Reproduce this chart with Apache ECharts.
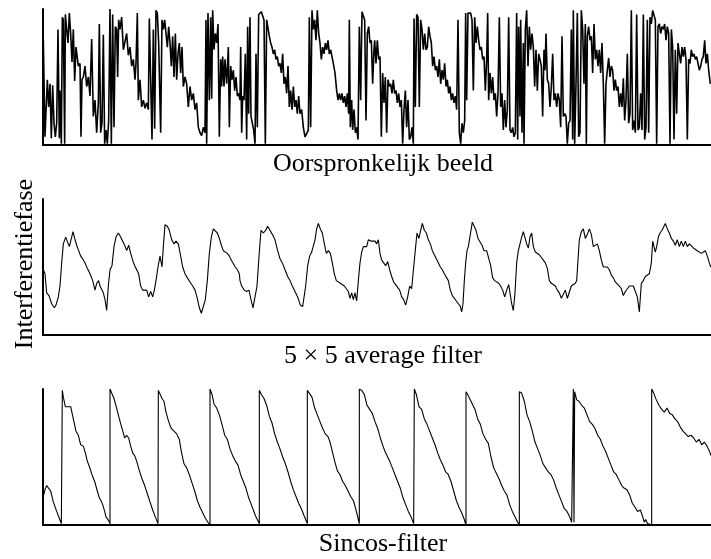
<!DOCTYPE html>
<html>
  <head>
    <meta charset="utf-8" />
    <title>Interferentiefase</title>
    <script src="https://cdn.jsdelivr.net/npm/echarts@6/dist/echarts.min.js"></script>
    <style>
      body { margin: 0; background: #fff; }
    </style>
  </head>
  <body>
    <div id="main" style="width: 711px; height: 559px"></div>
    <script type="text/javascript">
      // x = position along the profile (0..2004), y = phase in % of one fringe (0..100)
      var origPhase = [
        [1,77],[6,6],[13,48],[17,28],[21,45],[25,5],[29,44],[33,16],[37,6],[41,16],[45,85],[49,5],[51,40],[55,1],[58,94],[61,92],[65,1],[67,96],[71,85],[75,75],[79,97],[83,82],[87,61],[91,85],[95,47],[99,72],[106,58],[111,60],[114,6],[117,48],[121,50],[126,58],[131,43],[136,50],[141,36],[146,78],[151,21],[156,33],[161,9],[166,31],[169,89],[173,9],[177,16],[181,81],[185,1],[189,11],[193,1],[197,18],[201,100],[205,1],[209,96],[213,13],[217,87],[221,85],[224,50],[227,92],[231,85],[236,94],[241,70],[246,69],[251,82],[256,66],[261,72],[266,58],[271,63],[276,48],[279,60],[283,97],[286,33],[291,48],[296,28],[301,33],[306,27],[311,31],[316,26],[319,93],[323,92],[327,4],[331,85],[335,12],[339,99],[343,97],[347,75],[353,9],[357,92],[361,85],[365,92],[369,82],[373,72],[377,87],[381,75],[385,58],[389,80],[393,50],[397,82],[401,48],[405,67],[409,75],[413,53],[417,72],[421,43],[426,50],[431,45],[436,28],[441,43],[446,33],[451,38],[456,26],[461,31],[466,13],[471,9],[476,7],[481,13],[486,9],
        [489,92],[491,1],[495,97],[499,33],[503,94],[506,34],[509,99],[513,70],[517,82],[521,75],[525,89],[529,6],[533,63],[536,43],[539,65],[543,43],[546,63],[551,45],[556,72],[559,13],[563,58],[567,48],[571,55],[575,40],[579,50],[583,36],[587,38],[591,33],[593,72],[596,9],[599,36],[603,33],[607,67],[611,4],[614,87],[617,23],[621,94],[624,21],[628,16],[632,11],[636,1],[639,67],[643,13],[647,96],[651,97],[655,98],[659,98],[663,92],[667,1],[671,92],[675,92],[679,80],[683,75],[687,72],[691,67],[695,70],[699,63],[703,65],[707,58],[711,60],[715,53],[719,67],[723,45],[727,50],[731,38],[735,58],[739,28],[743,40],[747,26],[751,43],[755,28],[759,33],[763,23],[767,36],[771,23],[776,26],[781,13],[786,6],[791,6],[796,11],[799,94],[803,13],[807,99],[811,85],[815,92],[819,77],[823,99],[827,82],[831,75],[835,63],[839,72],[843,67],[847,75],[851,70],[855,77],[859,67],[863,70],[867,65],[871,60],[876,53],[881,40],[885,33],[889,38],[893,33],[897,38],[901,31],[905,36],[909,28],[913,38],[917,23],[919,92],[922,13],[926,33],[929,11],[933,26],[937,9],[941,13],[945,4],[949,87],[953,33],[957,98],[961,97],[965,92],[969,18],[973,82],[977,87],[981,75],[985,77],[989,45],[993,70],
        [995,77],[999,60],[1003,77],[1007,63],[1011,65],[1015,6],[1019,53],[1023,31],[1027,50],[1031,9],[1035,48],[1039,43],[1043,45],[1047,38],[1051,48],[1055,38],[1059,40],[1063,31],[1067,38],[1071,28],[1075,33],[1079,1],[1083,26],[1087,40],[1091,13],[1095,33],[1099,4],[1103,6],[1107,13],[1111,1],[1113,93],[1117,28],[1121,96],[1125,94],[1129,28],[1133,92],[1137,85],[1141,70],[1145,82],[1149,70],[1153,72],[1157,87],[1161,80],[1165,75],[1169,58],[1173,65],[1177,55],[1181,58],[1185,50],[1189,63],[1193,45],[1197,55],[1201,48],[1205,60],[1209,43],[1213,48],[1217,38],[1221,43],[1225,33],[1229,38],[1233,31],[1237,36],[1241,26],[1245,92],[1249,9],[1253,1],[1257,16],[1261,9],[1265,18],[1268,97],[1271,33],[1275,97],[1279,98],[1283,97],[1287,92],[1291,40],[1295,94],[1299,75],[1303,87],[1307,77],[1311,70],[1315,72],[1319,63],[1323,65],[1327,40],[1331,63],[1334,97],[1337,33],[1341,53],[1345,38],[1349,50],[1353,33],[1357,38],[1361,21],[1365,38],[1369,94],[1373,28],[1377,38],[1381,11],[1385,33],[1389,13],[1393,26],[1397,94],[1401,11],[1405,9],[1409,13],[1413,6],[1417,9],[1421,97],[1424,4],[1427,87],[1431,21],[1433,92],[1437,9],[1441,75],[1443,1],[1447,85],[1451,99],[1455,58],[1459,87],[1463,70],[1467,82],[1471,72],[1475,43],[1479,70],[1483,40],[1487,67],[1491,63],[1495,58],[1499,21],[1503,70],
        [1506,55],[1509,82],[1513,48],[1517,45],[1521,28],[1525,43],[1529,67],[1533,33],[1537,38],[1541,28],[1545,38],[1549,33],[1553,13],[1557,80],[1561,21],[1565,23],[1569,21],[1573,1],[1577,16],[1581,18],[1585,85],[1589,4],[1591,99],[1595,1],[1599,45],[1603,97],[1607,6],[1611,9],[1615,99],[1619,85],[1623,45],[1627,89],[1630,1],[1633,80],[1637,87],[1641,77],[1645,80],[1649,53],[1653,89],[1657,63],[1661,70],[1665,58],[1669,70],[1673,53],[1677,75],[1681,45],[1685,1],[1689,45],[1693,55],[1697,64],[1701,50],[1705,58],[1709,55],[1713,40],[1717,48],[1721,40],[1725,43],[1729,28],[1733,38],[1737,28],[1741,49],[1745,18],[1749,33],[1753,67],[1757,16],[1761,23],[1765,99],[1769,11],[1773,18],[1777,9],[1781,96],[1785,11],[1789,13],[1793,38],[1797,11],[1801,96],[1805,4],[1809,13],[1813,92],[1817,9],[1821,94],[1825,89],[1829,99],[1833,98],[1837,92],[1841,1],[1845,87],[1849,89],[1853,82],[1857,87],[1861,85],[1865,89],[1869,77],[1873,87],[1877,82],[1881,1],[1885,85],[1889,72],[1893,4],[1897,70],[1901,23],[1905,75],[1909,67],[1913,60],[1917,72],[1921,65],[1925,72],[1929,63],[1933,4],[1937,63],[1941,60],[1945,70],[1949,65],[1953,67],[1957,63],[1961,65],[1965,60],[1969,55],[1973,58],[1977,63],[1981,65],[1985,77],[1989,60],[1993,67],[1997,55],[2002,45]
      ];

      var avgPhase = [
        [1,48],[6,45],[11,31],[18,29],[26,23],[34,20],[39,22],[46,28],[51,36],[56,53],[61,67],[68,72],[74,71],[79,65],[84,70],[90,76],[95,71],[101,66],[107,65],[113,58],[119,56],[126,53],[133,49],[141,45],[149,40],[156,33],[161,38],[167,40],[171,36],[176,37],[181,31],[186,26],[191,18],[196,36],[201,48],[207,51],[213,65],[219,72],[226,75],[233,72],[239,69],[245,66],[251,62],[257,66],[263,60],[269,55],[275,51],[281,51],[287,45],[293,36],[299,33],[305,32],[311,33],[317,28],[323,32],[329,28],[334,33],[339,40],[345,50],[351,58],[357,50],[361,65],[366,81],[373,80],[379,77],[386,70],[393,67],[399,69],[406,67],[413,58],[419,50],[426,45],[433,42],[441,39],[449,36],[456,33],[463,27],[469,20],[475,16],[481,16],[487,26],[493,40],[499,60],[505,72],[511,78],[517,77],[523,75],[529,71],[535,66],[541,62],[547,63],[553,60],[559,58],[565,55],[571,54],[577,50],[583,48],[589,45],
        [591,40],[596,36],[604,33],[611,32],[618,33],[624,26],[630,20],[636,28],[642,36],[648,58],[654,77],[661,75],[668,77],[674,80],[681,77],[688,74],[696,70],[704,62],[711,56],[718,53],[726,48],[734,43],[741,40],[748,36],[756,32],[764,28],[772,22],[779,21],[784,21],[788,36],[794,51],[800,58],[806,61],[812,62],[816,70],[821,78],[826,82],[832,78],[838,75],[844,67],[850,60],[856,62],[862,60],[868,53],[874,45],[880,40],[886,39],[892,38],[898,37],[904,36],[910,34],[916,32],[921,27],[926,31],[931,26],[936,31],[941,25],[946,40],[951,53],[956,61],[961,65],[966,66],[971,65],[976,70],[981,69],[986,69],[991,70],[996,69],[1001,67],[1006,70],[1011,60],[1016,55],[1022,53],[1028,51],[1034,54],[1040,48],[1046,43],[1052,39],[1058,37],[1064,36],[1070,33],[1076,28],[1082,26],[1088,22],[1094,28],[1100,36],[1106,34],[1112,50],[1118,65],[1122,75],[1128,71],[1132,76],[1138,82],[1144,77],[1150,75],[1156,70],[1162,67],[1168,62],[1174,61],[1180,56],[1186,55],[1192,50],[1198,48],[1204,45],[1210,44],[1216,40],[1222,33],[1228,29],[1234,28],[1240,25],[1246,23],[1252,21],[1256,17],[1260,23],[1264,40],[1268,53],[1272,62],[1276,65],[1282,74],[1288,83],[1294,82],
        [1299,77],[1305,71],[1311,72],[1317,66],[1323,62],[1331,62],[1337,61],[1343,51],[1349,42],[1355,40],[1361,39],[1367,38],[1373,36],[1379,33],[1385,28],[1391,33],[1397,37],[1401,31],[1406,23],[1411,18],[1416,31],[1421,53],[1426,62],[1431,67],[1436,72],[1441,76],[1446,77],[1451,67],[1456,64],[1461,72],[1466,75],[1471,65],[1477,61],[1483,61],[1489,59],[1495,58],[1501,55],[1507,53],[1513,49],[1519,40],[1525,38],[1531,37],[1537,36],[1543,33],[1549,31],[1555,27],[1561,26],[1567,33],[1573,27],[1579,28],[1585,36],[1591,36],[1597,38],[1601,40],[1605,55],[1609,70],[1615,76],[1621,78],[1627,71],[1633,74],[1639,78],[1645,74],[1651,65],[1657,64],[1663,67],[1669,62],[1675,55],[1681,50],[1687,49],[1693,50],[1699,48],[1705,44],[1711,42],[1717,39],[1723,38],[1729,36],[1735,34],[1741,29],[1747,32],[1753,34],[1759,36],[1765,37],[1771,36],[1777,32],[1783,28],[1789,17],[1795,38],[1801,40],[1807,43],[1813,44],[1819,45],[1825,53],[1829,69],[1833,70],[1837,61],[1841,65],[1846,72],[1851,75],[1857,77],[1861,77],[1867,82],[1873,78],[1879,75],[1885,71],[1891,69],[1897,66],[1903,70],[1909,65],[1915,69],[1921,65],[1927,69],[1933,65],[1939,67],[1945,67],[1951,64],[1957,65],[1963,62],[1969,61],[1975,60],[1981,61],[1987,62],[1993,58],[1999,53],[2003,50]
      ];

      var sincosPhase = [
        [1,21],[6,26],[11,29],[17,29],[23,25],[31,17],[41,10],[49,5],[55,1],[58,0],[58,99],[61,94],[67,87],[76,87],[83,87],[91,78],[99,69],[106,66],[113,59],[121,58],[127,53],[133,47],[139,43],[147,37],[155,32],[163,25],[169,20],[174,18],[179,15],[185,10],[189,6],[195,5],[200,2],[201,0],[201,100],[206,99],[213,93],[221,86],[229,78],[237,71],[245,64],[251,66],[257,64],[263,58],[269,53],[275,51],[281,47],[289,40],[297,34],[305,29],[313,23],[321,17],[329,11],[337,6],[345,1],[346,0],[346,99],[351,98],[357,93],[363,91],[369,83],[377,76],[385,71],[393,69],[401,67],[409,63],[415,54],[423,45],[431,42],[439,37],[447,31],[455,25],[463,18],[471,13],[479,9],[487,5],[495,2],[501,0],[501,100],[507,96],[513,89],[521,86],[529,81],[537,74],[545,66],[553,63],[561,56],[569,51],[577,47],[585,44],[593,37],[601,32],[609,27],[617,20],[625,15],[631,16],[637,7],[643,4],[649,1],[649,99],[655,96],[663,93],[671,88],[679,80],[687,75],[695,67],[703,61],[711,56],[719,50],[727,45],[735,39],[743,32],[751,26],[759,21],[767,16],[775,12],[783,7],[793,1],[793,99],[799,98],[807,94],[815,86],[823,81],[831,76],[839,71],[847,67],[855,65],[861,61],[867,55],[875,47],[883,40],[891,37],[899,32],[907,29],[915,25],[923,21],[931,18],[937,13],[943,7],[949,1],[949,100],[956,99],[964,96],[972,88],[980,85],[988,82],[996,76],[1004,71],[1012,64],[1020,58],[1026,54],[1032,53],[1040,47],[1048,42],[1056,37],[1064,32],[1072,27],[1080,20],[1088,15],[1096,10],[1104,6],[1112,1],[1114,0],[1114,100],[1120,96],[1128,87],[1136,85],[1144,78],[1152,74],[1160,69],[1168,64],[1176,59],[1184,53],[1192,48],[1200,44],[1208,39],[1216,37],[1224,32],[1232,25],[1240,18],[1248,13],[1256,9],[1264,4],[1269,0],[1269,98],[1274,96],[1280,97],[1288,89],[1296,85],[1304,78],[1312,74],[1320,67],[1328,63],[1336,60],[1344,50],[1352,42],[1360,38],[1368,34],[1376,29],[1384,25],[1392,22],[1400,15],[1408,10],[1416,6],[1424,2],[1429,0],[1429,98],[1436,97],[1444,91],[1452,81],[1460,76],[1468,69],[1476,61],[1484,56],[1492,51],[1500,45],[1508,42],[1516,39],[1524,37],[1532,33],[1540,27],[1548,22],[1556,17],[1564,12],[1572,10],[1580,6],[1586,2],[1590,1],[1591,100],[1593,2],[1595,98],[1601,92],[1608,91],[1616,88],[1624,86],[1632,81],[1640,76],[1648,74],[1656,71],[1664,66],[1672,63],[1680,58],[1688,54],[1696,49],[1704,44],[1712,39],[1720,37],[1728,33],[1736,29],[1744,27],[1752,26],[1760,22],[1768,16],[1776,13],[1784,10],[1792,11],[1798,7],[1804,2],[1808,4],[1814,1],[1820,2],[1826,0],[1826,100],[1832,97],[1840,92],[1848,88],[1856,85],[1864,83],[1872,86],[1880,82],[1888,81],[1896,78],[1904,76],[1912,72],[1920,69],[1928,67],[1936,65],[1944,66],[1952,64],[1960,61],[1968,63],[1976,59],[1984,61],[1992,58],[2000,54],[2004,51]
      ];

      var panelTitles = ["Oorspronkelijk beeld", "5 \u00d7 5 average filter", "Sincos-filter"];
      var yTitle = "Interferentiefase";
    </script>

    <script type="text/javascript">
      var myChart = echarts.init(document.getElementById("main"));

      var tops = [9, 199, 389];
      var titleY = [164, 356, 544];
      var font = '26px "Liberation Serif", "Times New Roman", serif';

      var axisCommon = {
        axisLine: { show: true, onZero: false, lineStyle: { color: "#000", width: 2 } },
        axisTick: { show: false },
        axisLabel: { show: false },
        splitLine: { show: false },
      };

      var option = {
        animation: false,
        backgroundColor: "#fff",
        grid: tops.map(function (t) {
          return { left: 43, right: 0, top: t, height: 136 };
        }),
        xAxis: [0, 1, 2].map(function (i) {
          return Object.assign({ gridIndex: i, type: "value", min: 0, max: 2004 }, axisCommon);
        }),
        yAxis: [0, 1, 2].map(function (i) {
          return Object.assign({ gridIndex: i, type: "value", min: 0, max: 100 }, axisCommon);
        }),
        series: [
          {
            type: "line", xAxisIndex: 0, yAxisIndex: 0, data: origPhase,
            showSymbol: false, lineStyle: { color: "#000", width: 1.6 },
          },
          {
            type: "line", xAxisIndex: 1, yAxisIndex: 1, data: avgPhase,
            showSymbol: false, lineStyle: { color: "#000", width: 1.1 },
          },
          {
            type: "line", xAxisIndex: 2, yAxisIndex: 2, data: sincosPhase,
            showSymbol: false, lineStyle: { color: "#000", width: 1.1 },
          },
        ],
        graphic: panelTitles.map(function (t, i) {
          return {
            type: "text", x: 383, y: titleY[i],
            style: { text: t, font: font, fill: "#000", align: "center", verticalAlign: "middle" },
          };
        }).concat([
          {
            type: "text", x: 25, y: 264, rotation: Math.PI / 2,
            style: { text: yTitle, font: font, fill: "#000", align: "center", verticalAlign: "middle" },
          },
        ]),
      };

      myChart.setOption(option);
    </script>
  </body>
</html>
